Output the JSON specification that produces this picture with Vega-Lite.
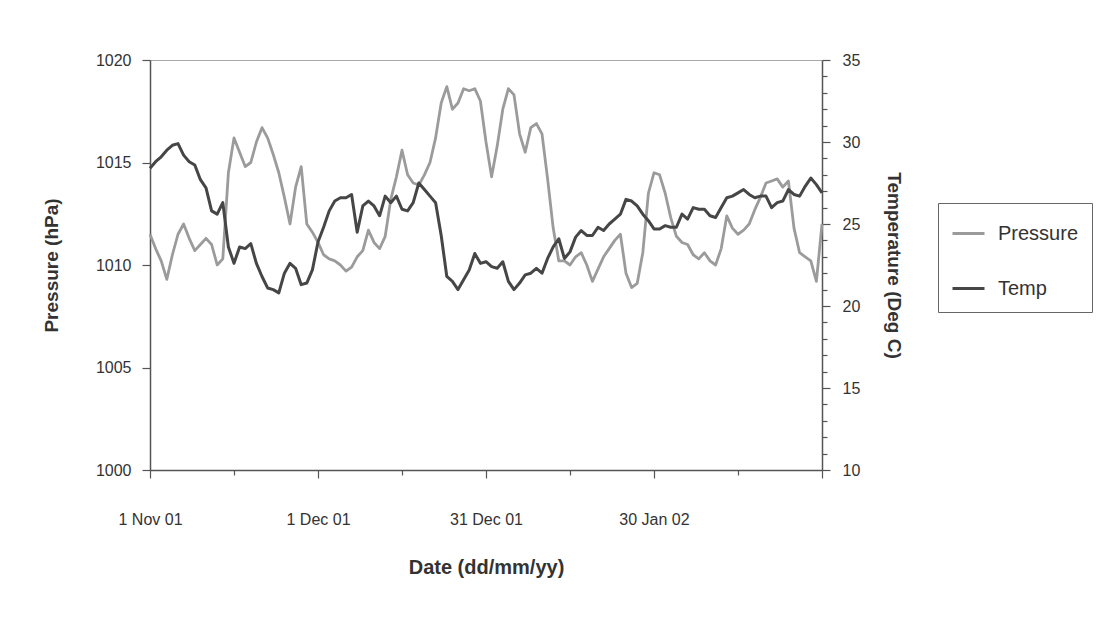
{
  "$schema": "https://vega.github.io/schema/vega-lite/v6.json",
  "width": 672,
  "height": 410,
  "autosize": "none",
  "padding": {"left": 150, "top": 60, "right": 289, "bottom": 156},
  "background": "white",
  "config": {
    "font": "Liberation Sans",
    "view": {"stroke": "#a8a8a8", "strokeWidth": 1},
    "axis": {
      "grid": false,
      "domainColor": "#555555",
      "domainWidth": 1.5,
      "tickColor": "#555555",
      "tickWidth": 1.2,
      "labelColor": "#333333",
      "labelFontSize": 16,
      "labelFont": "Liberation Sans",
      "titleColor": "#333333",
      "titleFont": "Liberation Sans",
      "titleFontSize": 19,
      "titleFontWeight": "bold"
    }
  },
  "data": {
    "values": [
      {"date": "2001-11-01", "pressure": 1011.5, "temp": 28.4},
      {"date": "2001-11-02", "pressure": 1010.8, "temp": 28.8},
      {"date": "2001-11-03", "pressure": 1010.2, "temp": 29.1},
      {"date": "2001-11-04", "pressure": 1009.3, "temp": 29.5},
      {"date": "2001-11-05", "pressure": 1010.5, "temp": 29.8},
      {"date": "2001-11-06", "pressure": 1011.5, "temp": 29.9},
      {"date": "2001-11-07", "pressure": 1012.0, "temp": 29.2},
      {"date": "2001-11-08", "pressure": 1011.3, "temp": 28.8},
      {"date": "2001-11-09", "pressure": 1010.7, "temp": 28.6},
      {"date": "2001-11-10", "pressure": 1011.0, "temp": 27.7},
      {"date": "2001-11-11", "pressure": 1011.3, "temp": 27.2},
      {"date": "2001-11-12", "pressure": 1011.0, "temp": 25.8},
      {"date": "2001-11-13", "pressure": 1010.0, "temp": 25.6},
      {"date": "2001-11-14", "pressure": 1010.3, "temp": 26.3},
      {"date": "2001-11-15", "pressure": 1014.5, "temp": 23.6},
      {"date": "2001-11-16", "pressure": 1016.2, "temp": 22.6},
      {"date": "2001-11-17", "pressure": 1015.5, "temp": 23.6},
      {"date": "2001-11-18", "pressure": 1014.8, "temp": 23.5},
      {"date": "2001-11-19", "pressure": 1015.0, "temp": 23.8},
      {"date": "2001-11-20", "pressure": 1016.0, "temp": 22.6},
      {"date": "2001-11-21", "pressure": 1016.7, "temp": 21.8},
      {"date": "2001-11-22", "pressure": 1016.2, "temp": 21.1},
      {"date": "2001-11-23", "pressure": 1015.4, "temp": 21.0},
      {"date": "2001-11-24", "pressure": 1014.5, "temp": 20.8},
      {"date": "2001-11-25", "pressure": 1013.3, "temp": 22.0},
      {"date": "2001-11-26", "pressure": 1012.0, "temp": 22.6},
      {"date": "2001-11-27", "pressure": 1013.8, "temp": 22.3},
      {"date": "2001-11-28", "pressure": 1014.8, "temp": 21.3},
      {"date": "2001-11-29", "pressure": 1012.0, "temp": 21.4},
      {"date": "2001-11-30", "pressure": 1011.6, "temp": 22.2},
      {"date": "2001-12-01", "pressure": 1011.1, "temp": 23.9},
      {"date": "2001-12-02", "pressure": 1010.5, "temp": 24.8},
      {"date": "2001-12-03", "pressure": 1010.3, "temp": 25.8},
      {"date": "2001-12-04", "pressure": 1010.2, "temp": 26.4},
      {"date": "2001-12-05", "pressure": 1010.0, "temp": 26.6},
      {"date": "2001-12-06", "pressure": 1009.7, "temp": 26.6},
      {"date": "2001-12-07", "pressure": 1009.9, "temp": 26.8},
      {"date": "2001-12-08", "pressure": 1010.4, "temp": 24.5},
      {"date": "2001-12-09", "pressure": 1010.7, "temp": 26.1},
      {"date": "2001-12-10", "pressure": 1011.7, "temp": 26.4},
      {"date": "2001-12-11", "pressure": 1011.1, "temp": 26.1},
      {"date": "2001-12-12", "pressure": 1010.8, "temp": 25.5},
      {"date": "2001-12-13", "pressure": 1011.4, "temp": 26.7},
      {"date": "2001-12-14", "pressure": 1013.2, "temp": 26.3},
      {"date": "2001-12-15", "pressure": 1014.3, "temp": 26.7},
      {"date": "2001-12-16", "pressure": 1015.6, "temp": 25.9},
      {"date": "2001-12-17", "pressure": 1014.4, "temp": 25.8},
      {"date": "2001-12-18", "pressure": 1014.0, "temp": 26.3},
      {"date": "2001-12-19", "pressure": 1013.9, "temp": 27.5},
      {"date": "2001-12-20", "pressure": 1014.4, "temp": 27.1},
      {"date": "2001-12-21", "pressure": 1015.0, "temp": 26.7},
      {"date": "2001-12-22", "pressure": 1016.2, "temp": 26.3},
      {"date": "2001-12-23", "pressure": 1017.9, "temp": 24.3},
      {"date": "2001-12-24", "pressure": 1018.7, "temp": 21.8},
      {"date": "2001-12-25", "pressure": 1017.6, "temp": 21.5},
      {"date": "2001-12-26", "pressure": 1017.9, "temp": 21.0},
      {"date": "2001-12-27", "pressure": 1018.6, "temp": 21.6},
      {"date": "2001-12-28", "pressure": 1018.5, "temp": 22.2},
      {"date": "2001-12-29", "pressure": 1018.6, "temp": 23.2},
      {"date": "2001-12-30", "pressure": 1018.0, "temp": 22.6},
      {"date": "2001-12-31", "pressure": 1016.0, "temp": 22.7},
      {"date": "2002-01-01", "pressure": 1014.3, "temp": 22.4},
      {"date": "2002-01-02", "pressure": 1015.8, "temp": 22.3},
      {"date": "2002-01-03", "pressure": 1017.6, "temp": 22.7},
      {"date": "2002-01-04", "pressure": 1018.6, "temp": 21.5},
      {"date": "2002-01-05", "pressure": 1018.3, "temp": 21.0},
      {"date": "2002-01-06", "pressure": 1016.4, "temp": 21.4},
      {"date": "2002-01-07", "pressure": 1015.5, "temp": 21.9},
      {"date": "2002-01-08", "pressure": 1016.7, "temp": 22.0},
      {"date": "2002-01-09", "pressure": 1016.9, "temp": 22.3},
      {"date": "2002-01-10", "pressure": 1016.4, "temp": 22.0},
      {"date": "2002-01-11", "pressure": 1014.2, "temp": 22.9},
      {"date": "2002-01-12", "pressure": 1011.8, "temp": 23.6},
      {"date": "2002-01-13", "pressure": 1010.2, "temp": 24.1},
      {"date": "2002-01-14", "pressure": 1010.2, "temp": 22.9},
      {"date": "2002-01-15", "pressure": 1010.0, "temp": 23.3},
      {"date": "2002-01-16", "pressure": 1010.4, "temp": 24.2},
      {"date": "2002-01-17", "pressure": 1010.6, "temp": 24.6},
      {"date": "2002-01-18", "pressure": 1010.0, "temp": 24.3},
      {"date": "2002-01-19", "pressure": 1009.2, "temp": 24.3},
      {"date": "2002-01-20", "pressure": 1009.8, "temp": 24.8},
      {"date": "2002-01-21", "pressure": 1010.4, "temp": 24.6},
      {"date": "2002-01-22", "pressure": 1010.8, "temp": 25.0},
      {"date": "2002-01-23", "pressure": 1011.2, "temp": 25.3},
      {"date": "2002-01-24", "pressure": 1011.5, "temp": 25.6},
      {"date": "2002-01-25", "pressure": 1009.6, "temp": 26.5},
      {"date": "2002-01-26", "pressure": 1008.9, "temp": 26.4},
      {"date": "2002-01-27", "pressure": 1009.1, "temp": 26.1},
      {"date": "2002-01-28", "pressure": 1010.6, "temp": 25.6},
      {"date": "2002-01-29", "pressure": 1013.5, "temp": 25.2},
      {"date": "2002-01-30", "pressure": 1014.5, "temp": 24.7},
      {"date": "2002-01-31", "pressure": 1014.4, "temp": 24.7},
      {"date": "2002-02-01", "pressure": 1013.5, "temp": 24.9},
      {"date": "2002-02-02", "pressure": 1012.3, "temp": 24.8},
      {"date": "2002-02-03", "pressure": 1011.4, "temp": 24.8},
      {"date": "2002-02-04", "pressure": 1011.1, "temp": 25.6},
      {"date": "2002-02-05", "pressure": 1011.0, "temp": 25.3},
      {"date": "2002-02-06", "pressure": 1010.5, "temp": 26.0},
      {"date": "2002-02-07", "pressure": 1010.3, "temp": 25.9},
      {"date": "2002-02-08", "pressure": 1010.6, "temp": 25.9},
      {"date": "2002-02-09", "pressure": 1010.2, "temp": 25.5},
      {"date": "2002-02-10", "pressure": 1010.0, "temp": 25.4},
      {"date": "2002-02-11", "pressure": 1010.8, "temp": 26.0},
      {"date": "2002-02-12", "pressure": 1012.4, "temp": 26.6},
      {"date": "2002-02-13", "pressure": 1011.8, "temp": 26.7},
      {"date": "2002-02-14", "pressure": 1011.5, "temp": 26.9},
      {"date": "2002-02-15", "pressure": 1011.7, "temp": 27.1},
      {"date": "2002-02-16", "pressure": 1012.0, "temp": 26.8},
      {"date": "2002-02-17", "pressure": 1012.7, "temp": 26.6},
      {"date": "2002-02-18", "pressure": 1013.3, "temp": 26.7},
      {"date": "2002-02-19", "pressure": 1014.0, "temp": 26.7},
      {"date": "2002-02-20", "pressure": 1014.1, "temp": 26.0},
      {"date": "2002-02-21", "pressure": 1014.2, "temp": 26.3},
      {"date": "2002-02-22", "pressure": 1013.8, "temp": 26.4},
      {"date": "2002-02-23", "pressure": 1014.1, "temp": 27.1},
      {"date": "2002-02-24", "pressure": 1011.8, "temp": 26.8},
      {"date": "2002-02-25", "pressure": 1010.6, "temp": 26.7},
      {"date": "2002-02-26", "pressure": 1010.4, "temp": 27.3},
      {"date": "2002-02-27", "pressure": 1010.2, "temp": 27.8},
      {"date": "2002-02-28", "pressure": 1009.2, "temp": 27.4},
      {"date": "2002-03-01", "pressure": 1012.0, "temp": 26.9}
    ]
  },
  "encoding": {
    "x": {
      "field": "date",
      "type": "temporal",
      "scale": {
        "type": "utc",
        "domain": [
          {"year": 2001, "month": 11, "date": 1, "utc": true},
          {"year": 2002, "month": 3, "date": 1, "utc": true}
        ]
      },
      "axis": {
        "title": "Date (dd/mm/yy)",
        "titleFontSize": 20,
        "values": [
          {"year": 2001, "month": 11, "date": 1, "utc": true},
          {"year": 2001, "month": 11, "date": 16, "utc": true},
          {"year": 2001, "month": 12, "date": 1, "utc": true},
          {"year": 2001, "month": 12, "date": 16, "utc": true},
          {"year": 2001, "month": 12, "date": 31, "utc": true},
          {"year": 2002, "month": 1, "date": 15, "utc": true},
          {"year": 2002, "month": 1, "date": 30, "utc": true},
          {"year": 2002, "month": 2, "date": 14, "utc": true},
          {"year": 2002, "month": 3, "date": 1, "utc": true}
        ],
        "labelExpr": "(utcdate(datum.value) < 10 || utcdate(datum.value) > 25) && utcmonth(datum.value) != 2 ? utcFormat(datum.value, '%-d %b %y') : ''",
        "tickSize": {"condition": {"test": "utcdate(datum.value) > 10 && utcdate(datum.value) < 20", "value": 5}, "value": 8},
        "labelPadding": 33,
        "labelFlush": false,
        "labelOverlap": false,
        "titlePadding": 30
      }
    }
  },
  "layer": [
    {
      "mark": {"type": "line", "strokeWidth": 2.8, "strokeJoin": "round"},
      "encoding": {
        "y": {
          "field": "pressure",
          "type": "quantitative",
          "scale": {"domain": [1000, 1020], "nice": false, "zero": false},
          "axis": {
            "title": "Pressure (hPa)",
            "orient": "left",
            "format": "d",
            "values": [1000, 1005, 1010, 1015, 1020],
            "tickSize": 8,
            "labelPadding": 11,
            "titlePadding": 34
          }
        },
        "color": {
          "datum": "Pressure",
          "type": "nominal",
          "scale": {"domain": ["Pressure", "Temp"], "range": ["#9b9b9b", "#464646"]},
          "legend": {
            "title": null,
            "orient": "none",
            "legendX": 788,
            "legendY": 143,
            "symbolType": "stroke",
            "symbolSize": 1024,
            "symbolStrokeWidth": 3,
            "labelFontSize": 20,
            "labelColor": "#333333",
            "labelFont": "Liberation Sans",
            "labelOffset": 12,
            "rowPadding": 27,
            "padding": 13,
            "strokeColor": "#666666",
            "fillColor": "white"
          }
        }
      }
    },
    {
      "mark": {"type": "line", "strokeWidth": 3, "strokeJoin": "round"},
      "encoding": {
        "y": {
          "field": "temp",
          "type": "quantitative",
          "scale": {"domain": [10, 35], "nice": false, "zero": false},
          "axis": {
            "title": "Temperature (Deg C)",
            "orient": "right",
            "values": [10, 11, 12, 13, 14, 15, 16, 17, 18, 19, 20, 21, 22, 23, 24, 25, 26, 27, 28, 29, 30, 31, 32, 33, 34, 35],
            "labelExpr": "datum.value % 5 == 0 ? datum.label : ''",
            "tickSize": {"condition": {"test": "datum.value % 5 == 0", "value": 8}, "value": 5},
            "labelPadding": 12,
            "titlePadding": 24,
            "titleAngle": 90
          }
        },
        "color": {"datum": "Temp", "type": "nominal"}
      }
    }
  ],
  "resolve": {"scale": {"y": "independent"}}
}
